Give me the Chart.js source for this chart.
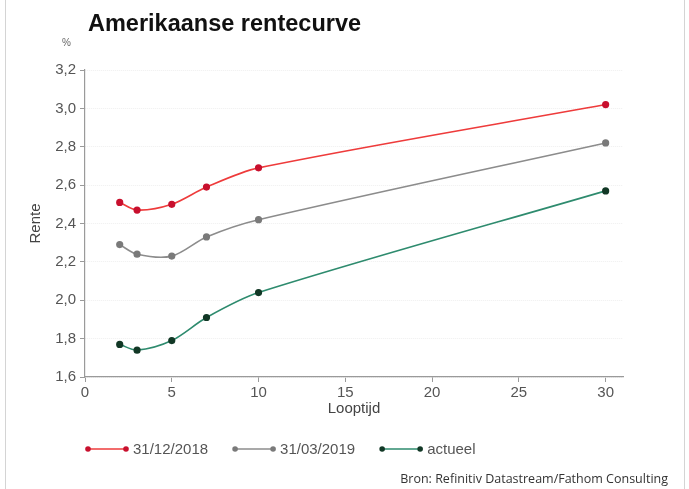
<!DOCTYPE html>
<html>
<head>
<meta charset="utf-8">
<script src="https://cdn.jsdelivr.net/npm/chart.js@4"></script>
<style>
  html, body { margin: 0; padding: 0; background: #fff; overflow: hidden; }
  #wrap { position: relative; width: 689px; height: 489px; }
  #c { position: absolute; left: 0; top: 0; }
  .frame { position: absolute; top: 0; bottom: 0; width: 1px; background: #d4d4d4; }
  #title { position: absolute; left: 88px; top: 12px; font: bold 23.5px "Liberation Sans", Arial, sans-serif; color: #111; line-height: 1; }
  #unit { position: absolute; left: 62px; top: 37px; font: 10px "Liberation Sans", Arial, sans-serif; color: #666; }
  #source { position: absolute; right: 21px; top: 470px; font: 12.5px "Open Sans", sans-serif; color: #333; }
</style>
</head>
<body>
<div id="wrap">
  <div class="frame" style="left:5px"></div>
  <div class="frame" style="left:684px"></div>
  <canvas id="c" width="689" height="489"></canvas>
  <div id="title">Amerikaanse rentecurve</div>
  <div id="unit">%</div>
  <div id="source">Bron: Refinitiv Datastream/Fathom Consulting</div>
</div>
<script>
/* Amerikaanse rentecurve — yield by maturity (years) on three dates */

const MATURITIES = [2, 3, 5, 7, 10, 30];
const DEC_2018 = [2.51, 2.47, 2.50, 2.59, 2.69, 3.02];
const MAR_2019 = [2.29, 2.24, 2.23, 2.33, 2.42, 2.82];
const CURRENT = [1.77, 1.74, 1.79, 1.91, 2.04, 2.57];
const SERIES_LABELS = ["31/12/2018", "31/03/2019", "actueel"];
const X_TICKS = [0, 5, 10, 15, 20, 25, 30];
const Y_TICKS = [1.6, 1.8, 2.0, 2.2, 2.4, 2.6, 2.8, 3.0, 3.2];

const FONT = "'Liberation Sans', Arial, sans-serif";
const TEXT = "#555";
const AXIS = "#9a9a9a";

function pts(vals) { return MATURITIES.map((m, i) => ({ x: m, y: vals[i] })); }

function series(label, vals, line, dot) {
  return {
    label, data: pts(vals),
    borderColor: line, backgroundColor: dot,
    pointBackgroundColor: dot, pointBorderColor: dot,
    borderWidth: 1.6, pointRadius: 2.8, pointHoverRadius: 3,
    tension: 0.3,
  };
}

// legend drawn under the axis: line with a dot at each end, then the label
const legendPlugin = {
  id: "lineLegend",
  afterDraw(chart) {
    const ctx = chart.ctx;
    const y = 449;
    let x = 88;
    ctx.save();
    ctx.font = "15px " + FONT;
    ctx.textBaseline = "middle";
    chart.data.datasets.forEach(ds => {
      ctx.strokeStyle = ds.borderColor;
      ctx.lineWidth = 1.4;
      ctx.beginPath(); ctx.moveTo(x, y); ctx.lineTo(x + 38, y); ctx.stroke();
      ctx.fillStyle = ds.pointBackgroundColor;
      [x, x + 38].forEach(px => { ctx.beginPath(); ctx.arc(px, y, 2.8, 0, Math.PI * 2); ctx.fill(); });
      ctx.fillStyle = TEXT;
      ctx.fillText(ds.label, x + 45, y + 1);
      x += 45 + ctx.measureText(ds.label).width + 27;
    });
    ctx.restore();
  },
};

new Chart(document.getElementById("c"), {
  type: "line",
  data: {
    datasets: [
      series(SERIES_LABELS[0], DEC_2018, "#ee3b3b", "#c8102e"),
      series(SERIES_LABELS[1], MAR_2019, "#8c8c8c", "#7a7a7a"),
      series(SERIES_LABELS[2], CURRENT, "#2e8b6e", "#123826"),
    ],
  },
  options: {
    responsive: false, animation: false,
    layout: { padding: { left: 23, top: 70, right: 66, bottom: 67 } },
    plugins: { legend: { display: false }, tooltip: { enabled: false } },
    scales: {
      x: {
        type: "linear", min: 0, max: 31,
        afterBuildTicks: s => { s.ticks = X_TICKS.map(v => ({ value: v })); },
        afterFit: s => { s.height = 45; },
        ticks: { color: TEXT, font: { family: FONT, size: 15 }, padding: 2, maxRotation: 0 },
        grid: { drawOnChartArea: false, tickLength: 5, tickColor: AXIS },
        border: { color: AXIS, width: 1.2 },
        title: { display: true, text: "Looptijd", color: "#444", font: { family: FONT, size: 15 }, padding: { top: 0, bottom: 4 } },
      },
      y: {
        min: 1.6, max: 3.2,
        afterBuildTicks: s => { s.ticks = Y_TICKS.map(v => ({ value: v })); },
        afterFit: s => { s.width = 62; },
        ticks: { color: TEXT, font: { family: FONT, size: 15 }, padding: 4,
          callback: v => v.toFixed(1).replace(".", ",") },
        grid: { color: "#efefef", tickLength: 5, tickColor: AXIS },
        border: { color: AXIS, width: 1.2, dash: [1, 1] },
        title: { display: true, text: "Rente", color: "#444", font: { family: FONT, size: 15 }, padding: 4 },
      },
    },
  },
  plugins: [legendPlugin],
});
</script>
</body>
</html>
